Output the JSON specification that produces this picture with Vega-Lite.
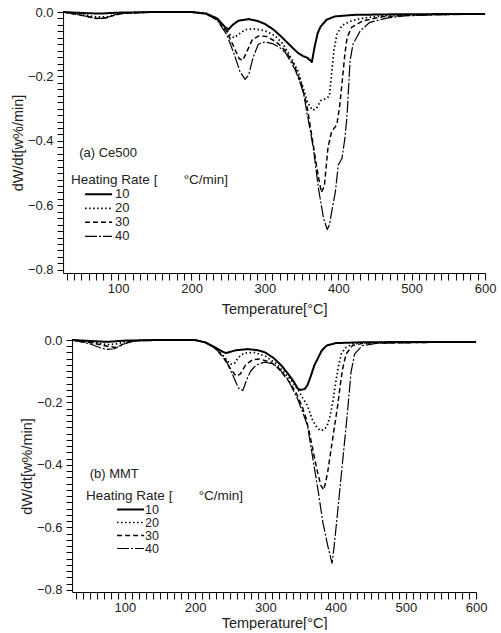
{
  "$schema": "https://vega.github.io/schema/vega-lite/v6.json",
  "background": "white",
  "padding": {"left": 10, "top": 6, "right": 5, "bottom": 0},
  "spacing": 18,
  "center": true,
  "resolve": {"scale": {"strokeDash": "independent", "strokeWidth": "independent"}},
  "config": {
    "view": {"stroke": null},
    "font": "Liberation Sans",
    "axis": {
      "domainColor": "black", "tickColor": "black", "labelColor": "#222", "titleColor": "#222",
      "labelFontSize": 13, "titleFontSize": 14.5, "titleFontWeight": "normal",
      "grid": false, "labelFlush": false, "labelOverlap": false
    },
    "axisX": {"tickSize": 7, "labelPadding": 2, "titlePadding": 3},
    "axisY": {"tickSize": 6, "labelPadding": 4, "titlePadding": 2},
    "legend": {
      "titleFontSize": 13.5, "titleFontWeight": "normal", "titleColor": "#222",
      "labelFontSize": 13, "labelColor": "#222", "padding": 0
    }
  },
  "datasets": {
    "ce500": [
      {"rate":"10","T":25,"v":0},{"rate":"10","T":50,"v":-0.003},{"rate":"10","T":75,"v":-0.005},{"rate":"10","T":100,"v":-0.002},{"rate":"10","T":150,"v":0},{"rate":"10","T":200,"v":0},{"rate":"10","T":220,"v":-0.005},{"rate":"10","T":235,"v":-0.02},{"rate":"10","T":245,"v":-0.045},{"rate":"10","T":250,"v":-0.055},{"rate":"10","T":256,"v":-0.04},{"rate":"10","T":264,"v":-0.027},{"rate":"10","T":278,"v":-0.022},{"rate":"10","T":290,"v":-0.028},{"rate":"10","T":300,"v":-0.037},{"rate":"10","T":312,"v":-0.055},{"rate":"10","T":323,"v":-0.078},{"rate":"10","T":335,"v":-0.105},{"rate":"10","T":345,"v":-0.127},{"rate":"10","T":352,"v":-0.137},{"rate":"10","T":358,"v":-0.142},{"rate":"10","T":364,"v":-0.155},{"rate":"10","T":368,"v":-0.105},{"rate":"10","T":372,"v":-0.065},{"rate":"10","T":376,"v":-0.045},{"rate":"10","T":384,"v":-0.024},{"rate":"10","T":395,"v":-0.014},{"rate":"10","T":420,"v":-0.009},{"rate":"10","T":480,"v":-0.007},{"rate":"10","T":600,"v":-0.006},
      {"rate":"20","T":25,"v":0},{"rate":"20","T":50,"v":-0.008},{"rate":"20","T":70,"v":-0.015},{"rate":"20","T":85,"v":-0.015},{"rate":"20","T":100,"v":-0.004},{"rate":"20","T":150,"v":0},{"rate":"20","T":200,"v":0},{"rate":"20","T":220,"v":-0.005},{"rate":"20","T":235,"v":-0.022},{"rate":"20","T":245,"v":-0.048},{"rate":"20","T":252,"v":-0.07},{"rate":"20","T":258,"v":-0.08},{"rate":"20","T":265,"v":-0.068},{"rate":"20","T":273,"v":-0.055},{"rate":"20","T":285,"v":-0.052},{"rate":"20","T":300,"v":-0.058},{"rate":"20","T":314,"v":-0.074},{"rate":"20","T":325,"v":-0.1},{"rate":"20","T":335,"v":-0.14},{"rate":"20","T":345,"v":-0.183},{"rate":"20","T":352,"v":-0.235},{"rate":"20","T":358,"v":-0.28},{"rate":"20","T":365,"v":-0.305},{"rate":"20","T":370,"v":-0.3},{"rate":"20","T":376,"v":-0.275},{"rate":"20","T":384,"v":-0.268},{"rate":"20","T":388,"v":-0.26},{"rate":"20","T":391,"v":-0.19},{"rate":"20","T":394,"v":-0.12},{"rate":"20","T":398,"v":-0.07},{"rate":"20","T":405,"v":-0.042},{"rate":"20","T":415,"v":-0.03},{"rate":"20","T":430,"v":-0.02},{"rate":"20","T":460,"v":-0.012},{"rate":"20","T":500,"v":-0.008},{"rate":"20","T":600,"v":-0.006},
      {"rate":"30","T":25,"v":0},{"rate":"30","T":50,"v":-0.01},{"rate":"30","T":70,"v":-0.02},{"rate":"30","T":85,"v":-0.018},{"rate":"30","T":100,"v":-0.005},{"rate":"30","T":150,"v":0},{"rate":"30","T":200,"v":0},{"rate":"30","T":220,"v":-0.006},{"rate":"30","T":235,"v":-0.025},{"rate":"30","T":248,"v":-0.06},{"rate":"30","T":258,"v":-0.11},{"rate":"30","T":265,"v":-0.145},{"rate":"30","T":270,"v":-0.15},{"rate":"30","T":276,"v":-0.12},{"rate":"30","T":283,"v":-0.085},{"rate":"30","T":292,"v":-0.074},{"rate":"30","T":302,"v":-0.076},{"rate":"30","T":315,"v":-0.092},{"rate":"30","T":328,"v":-0.12},{"rate":"30","T":340,"v":-0.165},{"rate":"30","T":350,"v":-0.225},{"rate":"30","T":358,"v":-0.3},{"rate":"30","T":365,"v":-0.4},{"rate":"30","T":372,"v":-0.5},{"rate":"30","T":377,"v":-0.56},{"rate":"30","T":381,"v":-0.54},{"rate":"30","T":386,"v":-0.42},{"rate":"30","T":391,"v":-0.37},{"rate":"30","T":398,"v":-0.35},{"rate":"30","T":402,"v":-0.29},{"rate":"30","T":406,"v":-0.2},{"rate":"30","T":409,"v":-0.13},{"rate":"30","T":412,"v":-0.08},{"rate":"30","T":418,"v":-0.048},{"rate":"30","T":434,"v":-0.027},{"rate":"30","T":460,"v":-0.015},{"rate":"30","T":500,"v":-0.009},{"rate":"30","T":600,"v":-0.006},
      {"rate":"40","T":25,"v":0},{"rate":"40","T":50,"v":-0.01},{"rate":"40","T":70,"v":-0.02},{"rate":"40","T":80,"v":-0.02},{"rate":"40","T":95,"v":-0.01},{"rate":"40","T":110,"v":-0.003},{"rate":"40","T":150,"v":0},{"rate":"40","T":200,"v":0},{"rate":"40","T":220,"v":-0.006},{"rate":"40","T":235,"v":-0.025},{"rate":"40","T":248,"v":-0.07},{"rate":"40","T":258,"v":-0.13},{"rate":"40","T":266,"v":-0.185},{"rate":"40","T":273,"v":-0.209},{"rate":"40","T":278,"v":-0.195},{"rate":"40","T":284,"v":-0.14},{"rate":"40","T":291,"v":-0.1},{"rate":"40","T":300,"v":-0.093},{"rate":"40","T":310,"v":-0.098},{"rate":"40","T":320,"v":-0.11},{"rate":"40","T":328,"v":-0.126},{"rate":"40","T":341,"v":-0.178},{"rate":"40","T":348,"v":-0.22},{"rate":"40","T":353,"v":-0.255},{"rate":"40","T":357,"v":-0.31},{"rate":"40","T":362,"v":-0.37},{"rate":"40","T":366,"v":-0.423},{"rate":"40","T":373,"v":-0.548},{"rate":"40","T":380,"v":-0.642},{"rate":"40","T":385,"v":-0.675},{"rate":"40","T":388,"v":-0.66},{"rate":"40","T":391,"v":-0.62},{"rate":"40","T":396,"v":-0.558},{"rate":"40","T":400,"v":-0.475},{"rate":"40","T":405,"v":-0.454},{"rate":"40","T":409,"v":-0.392},{"rate":"40","T":412,"v":-0.319},{"rate":"40","T":414,"v":-0.235},{"rate":"40","T":416,"v":-0.152},{"rate":"40","T":420,"v":-0.1},{"rate":"40","T":430,"v":-0.058},{"rate":"40","T":443,"v":-0.032},{"rate":"40","T":466,"v":-0.019},{"rate":"40","T":490,"v":-0.012},{"rate":"40","T":530,"v":-0.009},{"rate":"40","T":600,"v":-0.007}
    ],
    "mmt": [
      {"rate":"10","T":25,"v":0},{"rate":"10","T":50,"v":-0.003},{"rate":"10","T":75,"v":-0.006},{"rate":"10","T":100,"v":-0.002},{"rate":"10","T":150,"v":0},{"rate":"10","T":200,"v":0},{"rate":"10","T":215,"v":-0.008},{"rate":"10","T":228,"v":-0.023},{"rate":"10","T":238,"v":-0.036},{"rate":"10","T":244,"v":-0.042},{"rate":"10","T":250,"v":-0.038},{"rate":"10","T":258,"v":-0.033},{"rate":"10","T":275,"v":-0.029},{"rate":"10","T":290,"v":-0.033},{"rate":"10","T":300,"v":-0.04},{"rate":"10","T":312,"v":-0.058},{"rate":"10","T":323,"v":-0.082},{"rate":"10","T":333,"v":-0.11},{"rate":"10","T":341,"v":-0.135},{"rate":"10","T":346,"v":-0.155},{"rate":"10","T":350,"v":-0.16},{"rate":"10","T":356,"v":-0.157},{"rate":"10","T":360,"v":-0.145},{"rate":"10","T":365,"v":-0.114},{"rate":"10","T":370,"v":-0.08},{"rate":"10","T":375,"v":-0.058},{"rate":"10","T":380,"v":-0.035},{"rate":"10","T":387,"v":-0.018},{"rate":"10","T":400,"v":-0.01},{"rate":"10","T":440,"v":-0.007},{"rate":"10","T":600,"v":-0.006},
      {"rate":"20","T":25,"v":0},{"rate":"20","T":55,"v":-0.008},{"rate":"20","T":75,"v":-0.015},{"rate":"20","T":90,"v":-0.012},{"rate":"20","T":105,"v":-0.003},{"rate":"20","T":150,"v":0},{"rate":"20","T":200,"v":0},{"rate":"20","T":215,"v":-0.008},{"rate":"20","T":228,"v":-0.025},{"rate":"20","T":240,"v":-0.05},{"rate":"20","T":250,"v":-0.078},{"rate":"20","T":256,"v":-0.075},{"rate":"20","T":262,"v":-0.055},{"rate":"20","T":270,"v":-0.042},{"rate":"20","T":285,"v":-0.04},{"rate":"20","T":300,"v":-0.052},{"rate":"20","T":315,"v":-0.075},{"rate":"20","T":327,"v":-0.104},{"rate":"20","T":337,"v":-0.13},{"rate":"20","T":346,"v":-0.157},{"rate":"20","T":353,"v":-0.185},{"rate":"20","T":360,"v":-0.21},{"rate":"20","T":367,"v":-0.255},{"rate":"20","T":373,"v":-0.278},{"rate":"20","T":378,"v":-0.29},{"rate":"20","T":384,"v":-0.287},{"rate":"20","T":388,"v":-0.275},{"rate":"20","T":392,"v":-0.245},{"rate":"20","T":396,"v":-0.2},{"rate":"20","T":400,"v":-0.14},{"rate":"20","T":404,"v":-0.085},{"rate":"20","T":408,"v":-0.045},{"rate":"20","T":414,"v":-0.025},{"rate":"20","T":425,"v":-0.012},{"rate":"20","T":450,"v":-0.008},{"rate":"20","T":600,"v":-0.006},
      {"rate":"30","T":25,"v":0},{"rate":"30","T":55,"v":-0.01},{"rate":"30","T":75,"v":-0.02},{"rate":"30","T":88,"v":-0.024},{"rate":"30","T":100,"v":-0.01},{"rate":"30","T":115,"v":-0.002},{"rate":"30","T":150,"v":0},{"rate":"30","T":200,"v":0},{"rate":"30","T":215,"v":-0.008},{"rate":"30","T":228,"v":-0.025},{"rate":"30","T":240,"v":-0.055},{"rate":"30","T":250,"v":-0.09},{"rate":"30","T":258,"v":-0.115},{"rate":"30","T":264,"v":-0.11},{"rate":"30","T":272,"v":-0.08},{"rate":"30","T":282,"v":-0.063},{"rate":"30","T":292,"v":-0.061},{"rate":"30","T":308,"v":-0.071},{"rate":"30","T":318,"v":-0.09},{"rate":"30","T":327,"v":-0.114},{"rate":"30","T":336,"v":-0.14},{"rate":"30","T":344,"v":-0.17},{"rate":"30","T":352,"v":-0.21},{"rate":"30","T":358,"v":-0.25},{"rate":"30","T":364,"v":-0.31},{"rate":"30","T":368,"v":-0.355},{"rate":"30","T":374,"v":-0.42},{"rate":"30","T":379,"v":-0.465},{"rate":"30","T":383,"v":-0.48},{"rate":"30","T":386,"v":-0.455},{"rate":"30","T":389,"v":-0.42},{"rate":"30","T":393,"v":-0.36},{"rate":"30","T":397,"v":-0.3},{"rate":"30","T":403,"v":-0.21},{"rate":"30","T":407,"v":-0.14},{"rate":"30","T":410,"v":-0.093},{"rate":"30","T":415,"v":-0.045},{"rate":"30","T":424,"v":-0.018},{"rate":"30","T":440,"v":-0.01},{"rate":"30","T":600,"v":-0.006},
      {"rate":"40","T":25,"v":0},{"rate":"40","T":50,"v":-0.012},{"rate":"40","T":65,"v":-0.025},{"rate":"40","T":75,"v":-0.03},{"rate":"40","T":85,"v":-0.028},{"rate":"40","T":100,"v":-0.012},{"rate":"40","T":115,"v":-0.002},{"rate":"40","T":150,"v":0},{"rate":"40","T":200,"v":0},{"rate":"40","T":215,"v":-0.008},{"rate":"40","T":228,"v":-0.025},{"rate":"40","T":242,"v":-0.055},{"rate":"40","T":254,"v":-0.114},{"rate":"40","T":262,"v":-0.155},{"rate":"40","T":268,"v":-0.162},{"rate":"40","T":273,"v":-0.13},{"rate":"40","T":279,"v":-0.1},{"rate":"40","T":287,"v":-0.08},{"rate":"40","T":299,"v":-0.071},{"rate":"40","T":310,"v":-0.076},{"rate":"40","T":318,"v":-0.087},{"rate":"40","T":332,"v":-0.125},{"rate":"40","T":346,"v":-0.189},{"rate":"40","T":353,"v":-0.23},{"rate":"40","T":360,"v":-0.274},{"rate":"40","T":367,"v":-0.37},{"rate":"40","T":375,"v":-0.48},{"rate":"40","T":382,"v":-0.585},{"rate":"40","T":389,"v":-0.66},{"rate":"40","T":395,"v":-0.715},{"rate":"40","T":398,"v":-0.66},{"rate":"40","T":403,"v":-0.55},{"rate":"40","T":410,"v":-0.39},{"rate":"40","T":417,"v":-0.231},{"rate":"40","T":422,"v":-0.104},{"rate":"40","T":427,"v":-0.045},{"rate":"40","T":438,"v":-0.018},{"rate":"40","T":460,"v":-0.01},{"rate":"40","T":600,"v":-0.006}
    ]
  },
  "vconcat": [
    {
      "width": 422, "height": 261,
      "resolve": {"axis": {"x": "independent", "y": "independent"}},
      "layer": [
        {
          "data": {"name": "ce500"},
          "mark": {"type": "line", "color": "black", "strokeJoin": "round"},
          "encoding": {
            "x": {"field": "T", "type": "quantitative", "scale": {"domain": [25, 600], "nice": false, "zero": false},
                  "axis": {"values": [30,40,50,60,70,80,90,100,110,120,130,140,150,160,170,180,190,200,210,220,230,240,250,260,270,280,290,300,310,320,330,340,350,360,370,380,390,400,410,420,430,440,450,460,470,480,490,500,510,520,530,540,550,560,570,580,590,600],
                           "labelOverlap": false, "labelFlush": false, "titlePadding": 7,
                           "labelExpr": "datum.value % 100 === 0 ? datum.label : ''",
                           "encode": {"ticks": {"update": {"y2": {"signal": "datum.value % 100 === 0 ? 7 : 4"}}}},
                           "title": "Temperature[°C]"}},
            "y": {"field": "v", "type": "quantitative", "scale": {"domain": [-0.81, 0], "nice": false},
                  "axis": {"values": [0,-0.02,-0.04,-0.06,-0.08,-0.1,-0.12,-0.14,-0.16,-0.18,-0.2,-0.22,-0.24,-0.26,-0.28,-0.3,-0.32,-0.34,-0.36,-0.38,-0.4,-0.42,-0.44,-0.46,-0.48,-0.5,-0.52,-0.54,-0.56,-0.58,-0.6,-0.62,-0.64,-0.66,-0.68,-0.7,-0.72,-0.74,-0.76,-0.78,-0.8],
                           "format": ".1f", "labelOverlap": false, "labelFlush": false,
                           "labelExpr": "abs(datum.value*5 - round(datum.value*5)) < 0.001 ? datum.label : ''",
                           "encode": {"ticks": {"update": {"x2": {"signal": "abs(datum.value*5 - round(datum.value*5)) < 0.001 ? -6 : -3"}}}},
                           "title": "dW/dt[w%/min]"}},
            "strokeDash": {"field": "rate", "type": "ordinal",
                  "scale": {"domain": ["10", "20", "30", "40"], "range": [[1, 0], [1.5, 2.5], [5, 3], [12, 2, 2, 2]]},
                  "legend": {"orient": "none", "legendX": 8, "legendY": 161, "title": "Heating Rate [\u00a0\u00a0\u00a0\u00a0\u00a0\u00a0\u00a0°C/min]",
                             "symbolType": "stroke", "symbolSize": 729, "symbolOffset": 13, "labelOffset": 2, "symbolStrokeColor": "black", "titlePadding": 1, "rowPadding": 0, "clipHeight": 13.6}},
            "strokeWidth": {"field": "rate", "type": "ordinal",
                  "scale": {"domain": ["10", "20", "30", "40"], "range": [2, 1.2, 1.4, 1.6]},
                  "legend": {"orient": "none", "legendX": 8, "legendY": 161, "title": "Heating Rate [\u00a0\u00a0\u00a0\u00a0\u00a0\u00a0\u00a0°C/min]",
                             "symbolType": "stroke", "symbolSize": 729, "symbolOffset": 13, "labelOffset": 2, "symbolStrokeColor": "black", "titlePadding": 1, "rowPadding": 0, "clipHeight": 13.6}}
          }
        },
        {
          "data": {"values": [{"T": 47, "v": -0.437, "label": "(a) Ce500"}]},
          "mark": {"type": "text", "align": "left", "baseline": "middle", "fontSize": 13, "color": "#222"},
          "encoding": {
            "x": {"field": "T", "type": "quantitative", "axis": null},
            "y": {"field": "v", "type": "quantitative", "axis": null},
            "text": {"field": "label"}
          }
        }
      ]
    },
    {
      "width": 404, "height": 252,
      "resolve": {"axis": {"x": "independent", "y": "independent"}},
      "layer": [
        {
          "data": {"name": "mmt"},
          "mark": {"type": "line", "color": "black", "strokeJoin": "round"},
          "encoding": {
            "x": {"field": "T", "type": "quantitative", "scale": {"domain": [25, 600], "nice": false, "zero": false},
                  "axis": {"values": [30,40,50,60,70,80,90,100,110,120,130,140,150,160,170,180,190,200,210,220,230,240,250,260,270,280,290,300,310,320,330,340,350,360,370,380,390,400,410,420,430,440,450,460,470,480,490,500,510,520,530,540,550,560,570,580,590,600],
                           "labelOverlap": false, "labelFlush": false, "titlePadding": 2,
                           "labelExpr": "datum.value % 100 === 0 ? datum.label : ''",
                           "encode": {"ticks": {"update": {"y2": {"signal": "datum.value % 100 === 0 ? 7 : 4"}}}},
                           "title": "Temperature[°C]"}},
            "y": {"field": "v", "type": "quantitative", "scale": {"domain": [-0.807, 0], "nice": false},
                  "axis": {"values": [0,-0.02,-0.04,-0.06,-0.08,-0.1,-0.12,-0.14,-0.16,-0.18,-0.2,-0.22,-0.24,-0.26,-0.28,-0.3,-0.32,-0.34,-0.36,-0.38,-0.4,-0.42,-0.44,-0.46,-0.48,-0.5,-0.52,-0.54,-0.56,-0.58,-0.6,-0.62,-0.64,-0.66,-0.68,-0.7,-0.72,-0.74,-0.76,-0.78,-0.8],
                           "format": ".1f", "labelOverlap": false, "labelFlush": false,
                           "labelExpr": "abs(datum.value*5 - round(datum.value*5)) < 0.001 ? datum.label : ''",
                           "encode": {"ticks": {"update": {"x2": {"signal": "abs(datum.value*5 - round(datum.value*5)) < 0.001 ? -6 : -3"}}}},
                           "title": "dW/dt[w%/min]"}},
            "strokeDash": {"field": "rate", "type": "ordinal",
                  "scale": {"domain": ["10", "20", "30", "40"], "range": [[1, 0], [1.5, 2.5], [5, 3], [12, 2, 2, 2]]},
                  "legend": {"orient": "none", "legendX": 14, "legendY": 149, "title": "Heating Rate [\u00a0\u00a0\u00a0\u00a0\u00a0\u00a0\u00a0°C/min]",
                             "symbolType": "stroke", "symbolSize": 729, "symbolOffset": 30, "labelOffset": 0, "symbolStrokeColor": "black", "titlePadding": 1, "rowPadding": 0, "clipHeight": 12, "labelFontSize": 12.5}},
            "strokeWidth": {"field": "rate", "type": "ordinal",
                  "scale": {"domain": ["10", "20", "30", "40"], "range": [2, 1.2, 1.4, 1.6]},
                  "legend": {"orient": "none", "legendX": 14, "legendY": 149, "title": "Heating Rate [\u00a0\u00a0\u00a0\u00a0\u00a0\u00a0\u00a0°C/min]",
                             "symbolType": "stroke", "symbolSize": 729, "symbolOffset": 30, "labelOffset": 0, "symbolStrokeColor": "black", "titlePadding": 1, "rowPadding": 0, "clipHeight": 12, "labelFontSize": 12.5}}
          }
        },
        {
          "data": {"values": [{"T": 50, "v": -0.429, "label": "(b) MMT"}]},
          "mark": {"type": "text", "align": "left", "baseline": "middle", "fontSize": 13, "color": "#222"},
          "encoding": {
            "x": {"field": "T", "type": "quantitative", "axis": null},
            "y": {"field": "v", "type": "quantitative", "axis": null},
            "text": {"field": "label"}
          }
        }
      ]
    }
  ]
}
